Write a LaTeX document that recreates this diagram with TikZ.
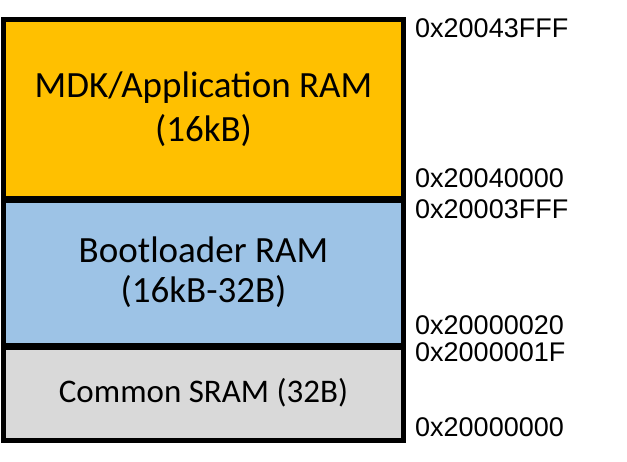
\documentclass[tikz,border=0pt]{standalone}
\usepackage{fontspec}
\setmainfont{Carlito}
\newfontfamily\addrfont{Liberation Sans}
\definecolor{appyellow}{HTML}{FFC000}
\definecolor{bootblue}{HTML}{9DC3E6}
\definecolor{commongray}{HTML}{D9D9D9}
\begin{document}
\begin{tikzpicture}[x=1pt,y=-1pt,
  region/.style={draw=black,line width=5pt,minimum width=400pt,inner sep=0pt,align=center,anchor=north},
  addr/.style={anchor=west,inner sep=0pt,font=\addrfont\fontsize{27}{32}\selectfont}]
\useasboundingbox (0,0) rectangle (627,462);
\node[region,fill=appyellow,minimum height=179pt,font=\fontsize{37}{44}\selectfont] (app) at (203.5,17) {MDK/Application RAM\\(16kB)};
\node[region,fill=bootblue,minimum height=147pt,font=\fontsize{37}{40}\selectfont] (boot) at (203.5,196) {Bootloader RAM\\(16kB-32B)};
\node[region,fill=commongray,minimum height=95pt,font=\fontsize{33}{40}\selectfont] (common) at (203.5,343) {Common SRAM (32B)};
\draw[line width=5pt] (app.south west) -- (app.south east);
\draw[line width=5pt] (boot.south west) -- (boot.south east);
\node[addr] (a1) at (415,28) {0x20043FFF};
\node[addr] (a2) at (415,178) {0x20040000};
\node[addr] (a3) at (415,209) {0x20003FFF};
\node[addr] (a4) at (415,325.5) {0x20000020};
\node[addr] (a5) at (415,352) {0x2000001F};
\node[addr] (a6) at (415,427.5) {0x20000000};
\end{tikzpicture}
\end{document}
